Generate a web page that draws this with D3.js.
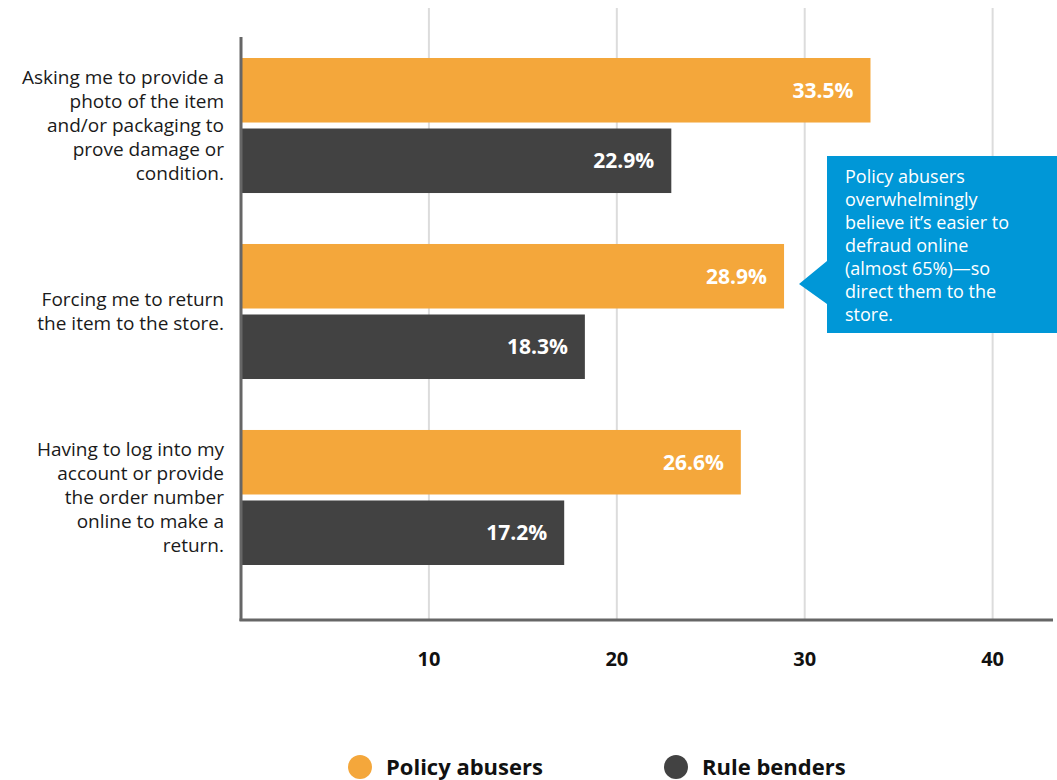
<!DOCTYPE html>
<html>
<head>
<meta charset="utf-8">
<script src="https://cdn.jsdelivr.net/npm/d3@7"></script>
<style>
  body { margin: 0; background: #fff; }
  text { font-family: "Open Sans", "Noto Sans", sans-serif; }
</style>
</head>
<body>
<script>
// Chart data
const categories = [
    ["Asking me to provide a", "photo of the item", "and/or packaging to", "prove damage or", "condition."],
    ["Forcing me to return", "the item to the store."],
    ["Having to log into my", "account or provide", "the order number", "online to make a", "return."]
];
const seriesNames = ["Policy abusers", "Rule benders"];
const policyAbusers = [33.5, 28.9, 26.6];
const ruleBenders = [22.9, 18.3, 17.2];
const tickValues = [10, 20, 30, 40];
const calloutLines = ["Policy abusers", "overwhelmingly", "believe it\u2019s easier to", "defraud online", "(almost 65%)\u2014so", "direct them to the", "store."];

const colors = ["#F4A73B", "#424242"];
const width = 1057, height = 780;

const svg = d3.select("body").append("svg")
    .attr("width", width)
    .attr("height", height);

const x = d3.scaleLinear().domain([0, 43]).range([241, 1049]);

const y0 = d3.scaleBand().domain(d3.range(categories.length))
    .range([39.4, 583.6]).paddingInner(0.274).paddingOuter(0.1);
const y1 = d3.scaleBand().domain([0, 1]).range([0, y0.bandwidth()]).paddingInner(0.085);

// gridlines
svg.append("g").selectAll("line")
    .data(tickValues)
    .join("line")
    .attr("x1", d => x(d)).attr("x2", d => x(d))
    .attr("y1", 8).attr("y2", 620)
    .attr("stroke", "#dcdcdc")
    .attr("stroke-width", 2);

// bars
const groups = svg.append("g").selectAll("g")
    .data(categories.map((c, i) => ({ label: c, values: [policyAbusers[i], ruleBenders[i]] })))
    .join("g")
    .attr("transform", (d, i) => `translate(0,${y0(i)})`);

groups.selectAll("rect")
    .data(d => d.values)
    .join("rect")
    .attr("x", x(0))
    .attr("y", (d, j) => y1(j))
    .attr("width", d => x(d) - x(0))
    .attr("height", y1.bandwidth())
    .attr("fill", (d, j) => colors[j]);

groups.selectAll("text.val")
    .data(d => d.values)
    .join("text")
    .attr("class", "val")
    .attr("x", d => x(d) - 17)
    .attr("y", (d, j) => y1(j) + y1.bandwidth() / 2)
    .attr("dy", "0.36em")
    .attr("text-anchor", "end")
    .attr("fill", "#fff")
    .attr("font-weight", 700)
    .attr("font-size", 21)
    .text(d => d.toFixed(1) + "%");

// category labels
groups.append("text")
    .attr("text-anchor", "end")
    .attr("font-size", 19)
    .attr("fill", "#1a1a1a")
    .each(function (d) {
        const n = d.label.length;
        const lh = 24;
        const startY = y0.bandwidth() / 2 - (n - 1) * lh / 2;
        d3.select(this).selectAll("tspan")
            .data(d.label)
            .join("tspan")
            .attr("x", 224)
            .attr("y", (t, k) => startY + k * lh)
            .attr("dy", "0.35em")
            .text(t => t);
    });

// axes lines
svg.append("line")
    .attr("x1", x(0)).attr("x2", x(0))
    .attr("y1", 37).attr("y2", 621)
    .attr("stroke", "#666").attr("stroke-width", 3);
svg.append("line")
    .attr("x1", x(0) - 1.5).attr("x2", 1053)
    .attr("y1", 620).attr("y2", 620)
    .attr("stroke", "#666").attr("stroke-width", 3);

// tick labels
svg.append("g").selectAll("text")
    .data(tickValues)
    .join("text")
    .attr("x", d => x(d))
    .attr("y", 659)
    .attr("dy", "0.35em")
    .attr("text-anchor", "middle")
    .attr("font-weight", 700)
    .attr("font-size", 20)
    .attr("fill", "#111")
    .text(d => d);

// callout
const cx0 = 827, cy0 = 156, cx1 = 1057, cy1 = 333;
svg.append("path")
    .attr("d", `M${cx0},${cy0} L${cx1},${cy0} L${cx1},${cy1} L${cx0},${cy1} L${cx0},${304} L${799},${284} L${cx0},${261} Z`)
    .attr("fill", "#0097D7");
svg.append("text")
    .attr("font-size", 18)
    .attr("fill", "#fff")
    .selectAll("tspan")
    .data(calloutLines)
    .join("tspan")
    .attr("x", 845)
    .attr("y", (d, i) => 177 + i * 23)
    .attr("dy", "0.35em")
    .text(d => d);

// legend
const legend = svg.append("g").selectAll("g")
    .data(seriesNames)
    .join("g")
    .attr("transform", (d, i) => `translate(${[360, 676][i]},767)`);
legend.append("circle")
    .attr("r", 12)
    .attr("fill", (d, i) => colors[i]);
legend.append("text")
    .attr("x", 26)
    .attr("dy", "0.35em")
    .attr("font-weight", 700)
    .attr("font-size", 22)
    .attr("fill", "#111")
    .text(d => d);
</script>
</body>
</html>
